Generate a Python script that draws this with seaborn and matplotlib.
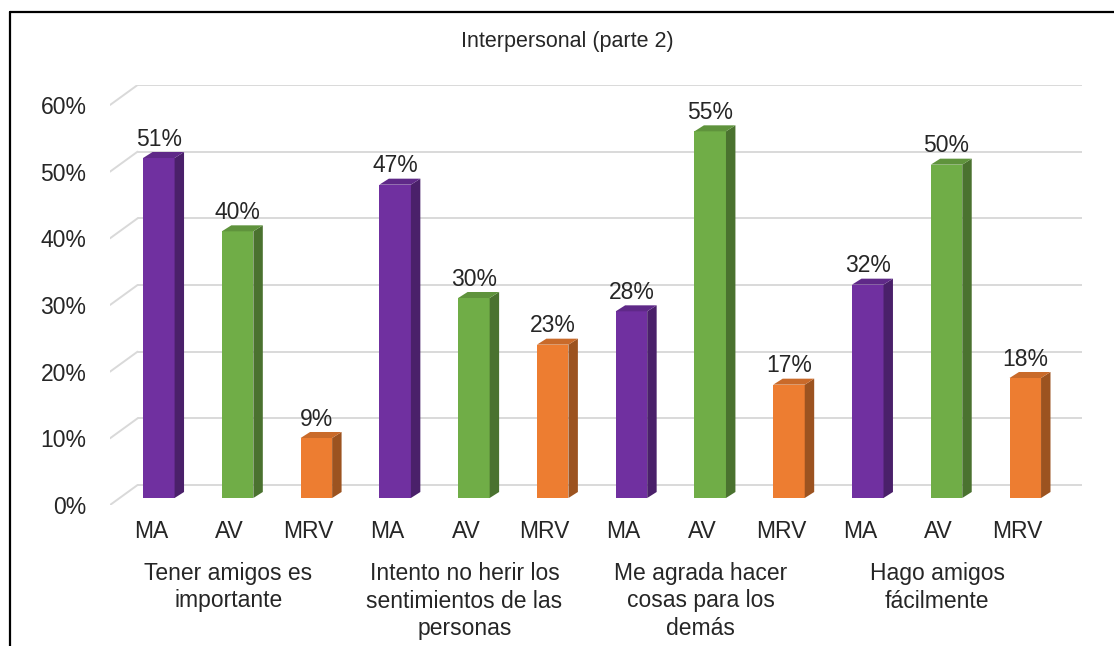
import matplotlib
matplotlib.use("Agg")
import numpy as np
import pandas as pd
import matplotlib.pyplot as plt
import seaborn as sns
from matplotlib.patches import Polygon
from matplotlib.lines import Line2D
from matplotlib.colors import to_rgb

# =========================
# Data
# =========================
niveles = ["MA", "AV", "MRV"]
grupos = [
    "Tener amigos es\nimportante",
    "Intento no herir los\nsentimientos de las\npersonas",
    "Me agrada hacer\ncosas para los\ndemás",
    "Hago amigos\nfácilmente",
]
ma = [51, 47, 28, 32]
av = [40, 30, 55, 50]
mrv = [9, 23, 17, 18]
ticks = [0, 10, 20, 30, 40, 50, 60]
titulo = "Interpersonal (parte 2)"

colores = {"MA": "#7030A0", "AV": "#70AD47", "MRV": "#ED7D31"}

rows = []
for g in range(len(grupos)):
    for nivel, serie in zip(niveles, [ma, av, mrv]):
        rows.append({"id": f"{g}-{nivel}", "grupo": grupos[g], "nivel": nivel, "valor": serie[g]})
df = pd.DataFrame(rows)

# =========================
# Style
# =========================
sns.set_style("white")
plt.rcParams["font.family"] = ["Liberation Sans", "DejaVu Sans"]
FS = 16.5
GRID = "#d9d9d9"

# 3D look: depth of bars and of the floor (data units)
dx, dy = 0.12, 0.9
wall_dx, wall_dy = 0.35, 3.0

fig = plt.figure(figsize=(11.14, 6.46), dpi=100)
ax = fig.add_axes([110 / 1114, (646 - 505) / 646, 972 / 1114, (505 - 85) / 646])

sns.barplot(data=df, x="id", y="valor", hue="nivel", order=list(df["id"]),
            hue_order=niveles, palette=colores, dodge=False, width=0.4,
            saturation=1, linewidth=0, legend=False, ax=ax, zorder=3)

xmin, xmax = -0.62, 11.72
ax.set_xlim(xmin, xmax)
ax.set_ylim(-1.05, 61.95)

# back wall gridlines + floor diagonals
for t in ticks:
    yb = t + 1.95
    ax.plot([xmin + wall_dx, xmax], [yb, yb], color=GRID, lw=1.4, zorder=1)
    ax.plot([xmin, xmin + wall_dx], [yb - wall_dy, yb], color=GRID, lw=1.4, zorder=1)

# side and top faces of each bar + value labels
for p in list(ax.patches):
    x0, w, h = p.get_x(), p.get_width(), p.get_height()
    x1 = x0 + w
    rgb = np.array(to_rgb(p.get_facecolor()))
    side = Polygon([(x1, 0), (x1 + dx, dy), (x1 + dx, h + dy), (x1, h)],
                   closed=True, facecolor=rgb * 0.66, edgecolor="none", zorder=3)
    top = Polygon([(x0, h), (x0 + dx, h + dy), (x1 + dx, h + dy), (x1, h)],
                  closed=True, facecolor=rgb * 0.85, edgecolor="none", zorder=3)
    ax.add_patch(side)
    ax.add_patch(top)
    ax.text(x0 + w / 2, h + dy + 0.2, f"{h:.0f}%", ha="center", va="bottom",
            fontsize=FS, color="#262626", zorder=4)

# category labels
for i, nivel in enumerate(df["nivel"]):
    ax.text(i - 0.1, -4.95, nivel, ha="center", va="center", fontsize=FS,
            color="#262626", clip_on=False)
for g, grupo in enumerate(grupos):
    ax.text(g * 3 + 1 - 0.12, -9.6, grupo, ha="center", va="top", fontsize=FS,
            color="#262626", linespacing=1.25, clip_on=False)

ax.set_xticks([])
ax.set_yticks([t - 1.05 for t in ticks])
ax.set_yticklabels([f"{t}%" for t in ticks], fontsize=FS, color="#262626")
ax.tick_params(axis="y", length=0, pad=17)
ax.set_xlabel("")
ax.set_ylabel("")
sns.despine(ax=ax, left=True, bottom=True)

fig.text(567 / 1114, 1 - 42 / 646, titulo, ha="center", va="center",
         fontsize=15.5, color="#262626")

# outer frame
fig.add_artist(Line2D([10 / 1114, 10 / 1114], [0, 1 - 12 / 646], color="black", lw=1.6))
fig.add_artist(Line2D([10 / 1114, 1], [1 - 12 / 646, 1 - 12 / 646], color="black", lw=1.6))

fig.savefig("out.png", dpi=100, facecolor="white")
